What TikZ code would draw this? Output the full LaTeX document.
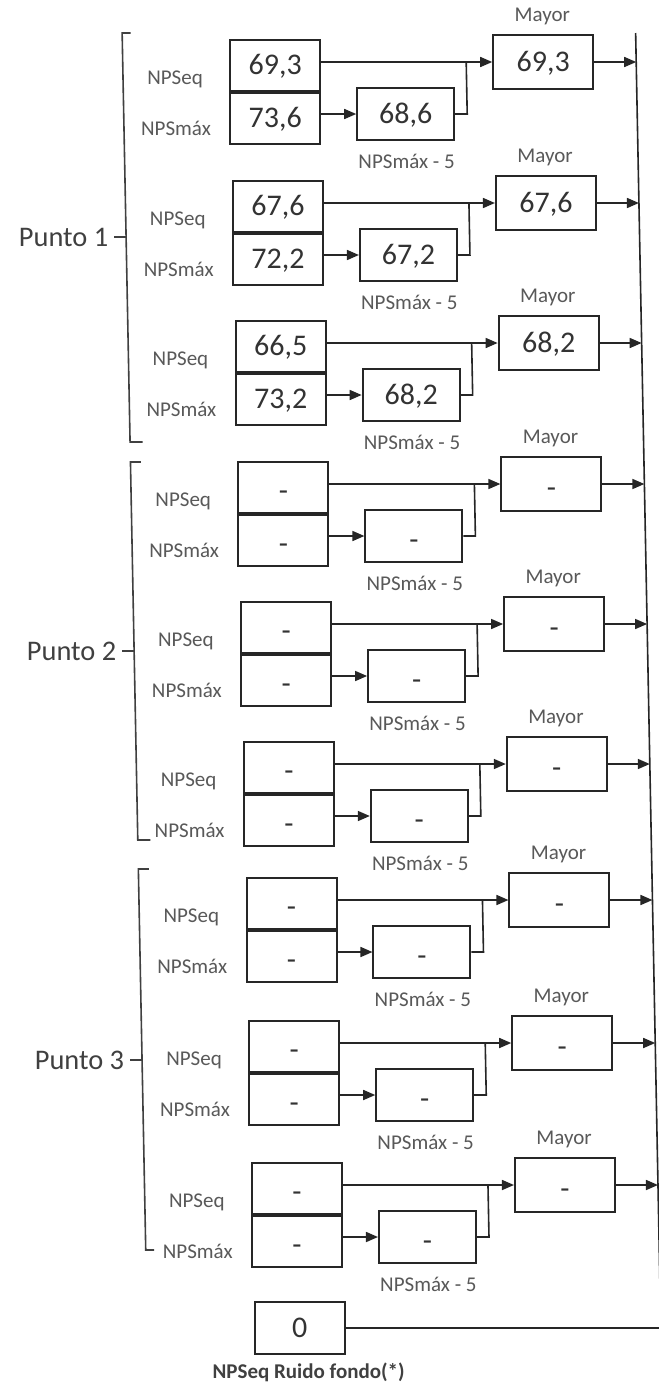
\documentclass[tikz,border=0pt]{standalone}
\usepackage{fontspec}
\setmainfont{Carlito}
\usetikzlibrary{arrows.meta}
\tikzset{
  numbox/.style={draw=black!85, line width=1pt, inner sep=0pt, text=black!80,
    font=\fontsize{15}{18}\selectfont, text height=9.6pt, text depth=0pt},
  lbl/.style={inner sep=0pt, text=black!65, font=\fontsize{10.5}{12}\selectfont},
  boldlbl/.style={inner sep=0pt, text=black!75, font=\bfseries\fontsize{10.5}{12}\selectfont},
  punto/.style={inner sep=0pt, text=black!75, font=\fontsize{14.2}{16}\selectfont},
  conn/.style={draw=black!85, line width=0.8pt},
  arr/.style={conn, -{Triangle[length=6pt,width=5pt]}},
  brk/.style={draw=black!75, line width=0.8pt},
}
\newcommand\dsh{\raisebox{-1.8pt}{-}}
\newcommand\npsunit[6]{%
  \node[numbox, minimum width=45pt, minimum height=25.5pt] (eq#1) at (274,{#2+26}) {#3};
  \node[numbox, minimum width=45pt, minimum height=25.5pt, anchor=north] (mx#1) at (eq#1.south) {#4};
  \node[numbox, minimum width=48.5pt, minimum height=26pt] (mf#1) at (403.5,{#2+75}) {#5};
  \node[numbox, minimum width=50pt, minimum height=27pt] (my#1) at (542,{#2+23}) {#6};
  \node[lbl] (le#1) at (173.5,{#2+40}) {NPSeq};
  \node[lbl] (lm#1) at (173.5,{#2+89}) {NPSmáx};
  \node[lbl] (lf#1) at (403.5,{#2+122}) {NPSmáx - 5};
  \node[lbl] (ly#1) at (542,{#2-23}) {Mayor};
  \coordinate (j#1) at (465,{#2+23});
  \coordinate (r#1) at (635,{#2+23});
  \draw[arr] (eq#1.east |- my#1.west) -- (my#1.west);
  \draw[arr] (mx#1.east |- mf#1.west) -- (mf#1.west);
  \draw[conn] (mf#1.east) -| (j#1);
  \draw[arr] (my#1.east) -- (r#1);
}
\begin{document}
\begin{tikzpicture}[x=0.5pt, y=-0.5pt]
\path[use as bounding box, fill=white] (0,0) rectangle (659,1383);
\begin{scope}[xslant=-0.0194]
  \coordinate (rtop) at (635,33);
  \coordinate (rbot) at (635,1328);
  \draw[conn] (rtop) -- (rbot);

  \npsunit{1}{39}{69,3}{73,6}{68,6}{69,3}
  \npsunit{2}{180}{67,6}{72,2}{67,2}{67,6}
  \npsunit{3}{320}{66,5}{73,2}{68,2}{68,2}
  \npsunit{4}{461}{\dsh}{\dsh}{\dsh}{\dsh}
  \npsunit{5}{601}{\dsh}{\dsh}{\dsh}{\dsh}
  \npsunit{6}{741}{\dsh}{\dsh}{\dsh}{\dsh}
  \npsunit{7}{877}{\dsh}{\dsh}{\dsh}{\dsh}
  \npsunit{8}{1020}{\dsh}{\dsh}{\dsh}{\dsh}
  \npsunit{9}{1162}{\dsh}{\dsh}{\dsh}{\dsh}

  % brackets
  \draw[brk] (130,33) -- (121.5,33) -- (121.5,442) -- (134,442);
  \draw[brk] (121.5,237) -- (109,237);
  \node[punto, anchor=east] (p1) at (104,237) {Punto 1};

  \draw[brk] (132,462) -- (121.5,462) -- (121.5,840) -- (134,840);
  \draw[brk] (121.5,651) -- (109,651);
  \node[punto, anchor=east] (p2) at (104,651) {Punto 2};

  \draw[brk] (132,869) -- (121.5,869) -- (121.5,1250) -- (130,1250);
  \draw[brk] (121.5,1060) -- (109,1060);
  \node[punto, anchor=east] (p3) at (104,1060) {Punto 3};

  % background noise
  \node[numbox, minimum width=45pt, minimum height=26pt] (zero) at (274,1328) {0};
  \node[boldlbl] (zl) at (282,1372) {NPSeq Ruido fondo(*)};
  \draw[conn] (zero.east) -- (rbot);
\end{scope}
\end{tikzpicture}
\end{document}
